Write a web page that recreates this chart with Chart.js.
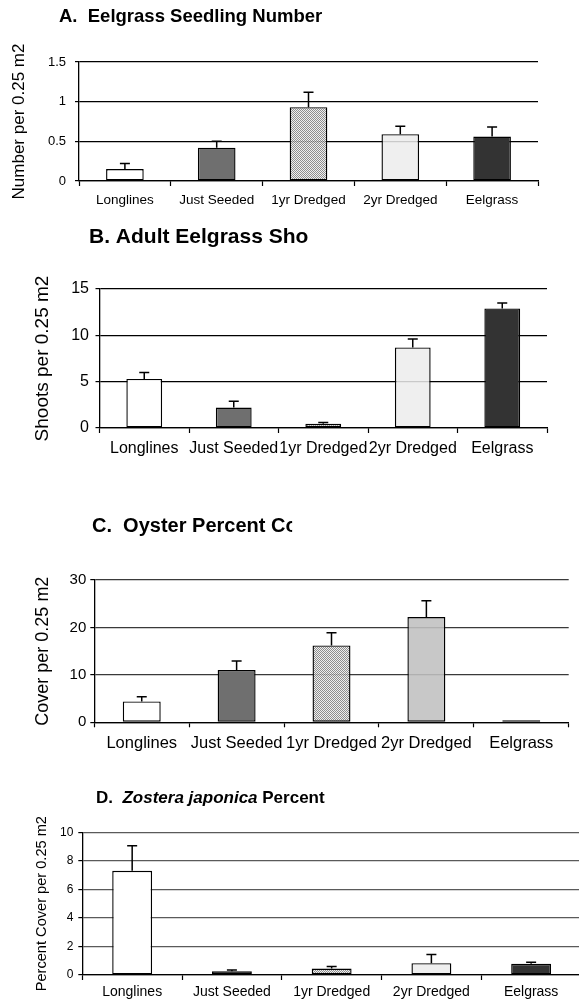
<!DOCTYPE html>
<html>
<head>
<meta charset="utf-8">
<script src="https://cdn.jsdelivr.net/npm/chart.js@4.4.1/dist/chart.umd.min.js"></script>
<style>
  html, body { margin: 0; padding: 0; background: #fff; width: 579px; height: 1001px; overflow: hidden; }
  canvas { position: absolute; left: 0; }
</style>
</head>
<body>
<canvas id="panelA"></canvas>
<canvas id="panelB"></canvas>
<canvas id="panelC"></canvas>
<canvas id="panelD"></canvas>
<script>
const FONT = "'Liberation Sans', Arial, sans-serif";

const categories = ['Longlines', 'Just Seeded', '1yr Dredged', '2yr Dredged', 'Eelgrass'];

// A. seedlings
const seedlingMean = [0.15, 0.42, 0.93, 0.59, 0.56];
const seedlingSE = [0.07, 0.08, 0.19, 0.10, 0.12];
const seedlingTicks = [0, 0.5, 1, 1.5];

// B. adult shoots
const shootMean = [5.3, 2.2, 0.45, 8.7, 12.9];
const shootSE = [0.7, 0.7, 0.15, 0.9, 0.6];
const shootTicks = [0, 5, 10, 15];

// C. oyster cover
const oysterMean = [4.4, 11.0, 16.2, 22.2, 0.15];
const oysterSE = [1.0, 1.9, 2.7, 3.4, 0];
const oysterTicks = [0, 10, 20, 30];

// D. Zostera japonica cover
const japonicaMean = [7.3, 0.26, 0.45, 0.83, 0.78];
const japonicaSE = [1.75, 0.09, 0.15, 0.6, 0.11];
const japonicaTicks = [0, 2, 4, 6, 8, 10];

function stipple(dark, light) {
  const c = document.createElement('canvas');
  c.width = c.height = 2;
  const g = c.getContext('2d');
  g.fillStyle = light;
  g.fillRect(0, 0, 2, 2);
  g.clearRect(0, 0, 1, 1);
  g.clearRect(1, 1, 1, 1);
  g.fillStyle = dark;
  g.fillRect(0, 0, 1, 1);
  g.fillRect(1, 1, 1, 1);
  return g.createPattern(c, 'repeat');
}

// bold title, some parts italic, optionally cut through the last letter
const panelTitle = {
  id: 'panelTitle',
  afterDraw(chart, args, o) {
    const ctx = chart.ctx;
    ctx.save();
    ctx.fillStyle = '#000';
    ctx.textBaseline = 'alphabetic';
    ctx.textAlign = 'left';
    let x = o.x, clipX = chart.width;
    const widths = [];
    for (const p of o.parts) {
      ctx.font = (p.italic ? 'italic ' : '') + 'bold ' + o.size + 'px ' + FONT;
      widths.push(ctx.measureText(p.text).width);
    }
    if (o.cut) {
      const last = o.parts[o.parts.length - 1];
      ctx.font = 'bold ' + o.size + 'px ' + FONT;
      const full = ctx.measureText(last.text).width;
      const lastCh = ctx.measureText(last.text.slice(-1)).width;
      clipX = o.x + widths.slice(0, -1).reduce((a, b) => a + b, 0) + full - lastCh * (1 - o.cut);
    }
    ctx.beginPath();
    ctx.rect(0, 0, clipX, chart.height);
    ctx.clip();
    o.parts.forEach((p, i) => {
      ctx.font = (p.italic ? 'italic ' : '') + 'bold ' + o.size + 'px ' + FONT;
      ctx.fillText(p.text, x, o.y);
      x += widths[i];
    });
    ctx.restore();
  }
};

// one-sided error bars (mean + SE)
const errorBars = {
  id: 'errorBars',
  afterDatasetsDraw(chart, args, o) {
    const ctx = chart.ctx;
    const y = chart.scales.y;
    const data = chart.data.datasets[0].data;
    ctx.save();
    ctx.strokeStyle = '#000';
    ctx.lineWidth = 1.5;
    chart.getDatasetMeta(0).data.forEach((bar, i) => {
      const se = o.se[i];
      if (!se) return;
      const top = y.getPixelForValue(data[i] + se);
      ctx.beginPath();
      ctx.moveTo(bar.x, bar.y);
      ctx.lineTo(bar.x, top);
      ctx.moveTo(bar.x - 5, top);
      ctx.lineTo(bar.x + 5, top);
      ctx.stroke();
    });
    ctx.restore();
  }
};

function makePanel(id, p) {
  const cv = document.getElementById(id);
  cv.width = p.w;
  cv.height = p.h;
  cv.style.top = p.top + 'px';
  cv.style.width = p.w + 'px';
  cv.style.height = p.h + 'px';
  return new Chart(cv, {
    type: 'bar',
    data: {
      labels: categories,
      datasets: [{
        data: p.mean,
        backgroundColor: p.fills,
        borderColor: '#000',
        borderWidth: 1.4,
        borderSkipped: false,
        minBarLength: 2,
        categoryPercentage: 1,
        barPercentage: p.barPct
      }]
    },
    options: {
      responsive: false,
      animation: false,
      devicePixelRatio: 1,
      layout: { padding: { left: 0, top: p.plotTop - p.top, right: p.w - p.plotRight, bottom: 0 } },
      plugins: {
        legend: { display: false },
        tooltip: { enabled: false },
        panelTitle: p.title,
        errorBars: { se: p.se }
      },
      scales: {
        x: {
          offset: true,
          grid: { display: true, offset: true, drawOnChartArea: false, drawTicks: true, tickLength: 5, tickColor: '#000', tickWidth: 1.2 },
          border: { display: true, color: '#000', width: 1.3 },
          ticks: { autoSkip: false, maxRotation: 0, minRotation: 0, color: '#000', padding: p.xPad, font: { family: FONT, size: p.xFont } },
          afterFit: s => { s.height = p.top + p.h - p.plotBottom; }
        },
        y: {
          min: p.ticks[0],
          max: p.ticks[p.ticks.length - 1],
          ticks: {
            stepSize: p.ticks[1] - p.ticks[0],
            color: '#000',
            padding: p.yPad,
            font: { family: FONT, size: p.yFont },
            callback: v => String(Math.round(v * 100) / 100)
          },
          grid: { color: p.gridColor, lineWidth: 1.2, tickLength: 4, tickColor: '#000', tickWidth: 1.2 },
          border: { display: true, color: '#000', width: 1.3 },
          title: { display: true, text: p.yTitle, color: '#000', font: { family: FONT, size: p.yTitleSize }, padding: { top: p.yTitleX - 0.6 * p.yTitleSize, bottom: 0 } },
          afterFit: s => { s.width = p.plotLeft; }
        }
      }
    },
    plugins: [panelTitle, errorBars]
  });
}

const pat = stipple('rgba(130,130,130,0.9)', 'rgba(236,236,236,0.85)');
const pale = 'rgba(236,236,236,0.85)';

makePanel('panelA', {
  top: 0, h: 212, w: 579,
  plotLeft: 79, plotRight: 538, plotTop: 62, plotBottom: 181,
  mean: seedlingMean, se: seedlingSE, ticks: seedlingTicks,
  fills: ['#ffffff', '#6f6f6f', pat, pale, '#333333'],
  barPct: 0.41, gridColor: '#000',
  xFont: 13.5, xPad: 6, yFont: 13, yPad: 9,
  yTitle: 'Number per 0.25 m2', yTitleSize: 17, yTitleX: 19,
  title: { parts: [{ text: 'A.  Eelgrass Seedling Number' }], x: 59, y: 22, size: 18.5 }
});

makePanel('panelB', {
  top: 214, h: 248, w: 579,
  plotLeft: 99.5, plotRight: 547, plotTop: 289, plotBottom: 428,
  mean: shootMean, se: shootSE, ticks: shootTicks,
  fills: ['#ffffff', '#6f6f6f', pat, pale, '#333333'],
  barPct: 0.40, gridColor: '#000',
  xFont: 16, xPad: 6, yFont: 16, yPad: 6.5,
  yTitle: 'Shoots per 0.25 m2', yTitleSize: 19, yTitleX: 43,
  title: { parts: [{ text: 'B. Adult Eelgrass Sho' }], x: 89, y: 29.3, size: 21 }
});

makePanel('panelC', {
  top: 470, h: 285, w: 579,
  plotLeft: 94.3, plotRight: 568.7, plotTop: 580, plotBottom: 722.3,
  mean: oysterMean, se: oysterSE, ticks: oysterTicks,
  fills: ['#ffffff', '#6f6f6f', pat, 'rgba(192,192,192,0.88)', '#333333'],
  barPct: 0.40, gridColor: '#3a3a3a',
  xFont: 16.5, xPad: 6, yFont: 15, yPad: 4,
  yTitle: 'Cover per 0.25 m2', yTitleSize: 18, yTitleX: 43.5,
  title: { parts: [{ text: 'C.  Oyster Percent Co' }], cut: 0.55, x: 92, y: 62.3, size: 20 }
});

makePanel('panelD', {
  top: 765, h: 236, w: 590,
  plotLeft: 82.3, plotRight: 581, plotTop: 832.3, plotBottom: 975,
  mean: japonicaMean, se: japonicaSE, ticks: japonicaTicks,
  fills: ['#ffffff', '#333333', pat, pale, '#333333'],
  barPct: 0.40, gridColor: '#5a5a5a',
  xFont: 14, xPad: 4, yFont: 12, yPad: 5,
  yTitle: 'Percent Cover per 0.25 m2', yTitleSize: 14.6, yTitleX: 42,
  title: { parts: [{ text: 'D.  ' }, { text: 'Zostera japonica', italic: true }, { text: ' Percent' }], x: 96, y: 38.3, size: 17 }
});
</script>
</body>
</html>
